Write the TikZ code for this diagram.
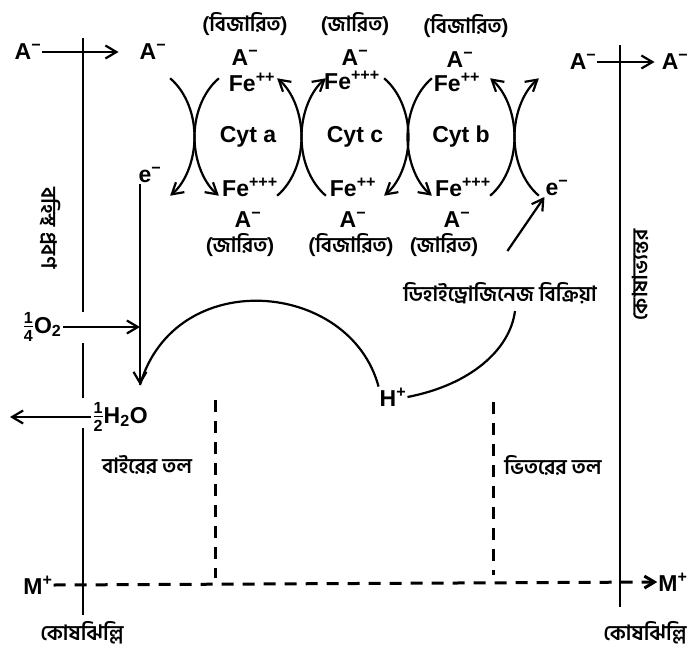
\documentclass[tikz,border=0pt]{standalone}
\usepackage{amsmath}
\usepackage{fontspec}
\setmainfont{Liberation Sans}
\newfontfamily\bn[Script=Bengali]{Hind Siliguri}
\usetikzlibrary{arrows.meta,calc}
\tikzset{
  pf/.style={-{Straight Barb[length=11pt,width=13pt]},line width=2.2pt},
  bogen/.style={line width=2.2pt},
  memb/.style={line width=2.6pt},
  strich/.style={line width=3pt,dash pattern=on 12pt off 9pt},
  txt/.style={inner sep=1pt,font=\fontsize{23}{25}\selectfont\bfseries},
  bnt/.style={inner sep=1pt,font=\fontsize{21}{24}\selectfont\bn\bfseries},
  bnb/.style={inner sep=1pt,font=\fontsize{21}{24}\selectfont\bn\bfseries},
}
\newcommand{\am}{A\textsuperscript{−}}

\begin{document}
\begin{tikzpicture}[x=1pt,y=1pt]
  \useasboundingbox (0,0) rectangle (699,-659);
  % Membranen
  \draw[memb] (83,-38) -- (83,-312);
  \draw[memb] (83,-343) -- (83,-398);
  \draw[memb] (83,-428) -- (83,-615);
  \draw[memb] (620,-45) -- (620,-607);
  \node[bnb,rotate=-90] (aussen) at (50,-228) {বহিস্থ প্রবণ};
  \node[bnb,rotate=90] (innen) at (640,-275) {কোষাভ্যন্তর};
  % A- oben
  \node[txt] (a0) at (28,-52) {\am};
  \node[txt] (a1) at (153,-52) {\am};
  \draw[pf,shorten >=20pt] (a0) -- (a1);
  \node[txt] (a2) at (583,-62) {\am};
  \node[txt] (a3) at (675,-62) {\am};
  \draw[pf,shorten >=6pt] (a2) -- (a3);
  % Cytochrome
  \node[bnt] (b1) at (245,-24) {(বিজারিত)};
  \node[bnt] (b2) at (355,-24) {(জারিত)};
  \node[bnt] (b3) at (466,-26) {(বিজারিত)};
  \node[txt] (t1) at (245,-58) {\am};
  \node[txt] (t2) at (355,-58) {\am};
  \node[txt] (t3) at (460,-60) {\am};
  \node[txt] (fa) at (252,-82) {Fe\textsuperscript{++}};
  \node[txt] (fc) at (352,-80) {Fe\textsuperscript{+++}};
  \node[txt] (fb) at (457,-82) {Fe\textsuperscript{++}};
  \node[txt] (ca) at (248,-137) {Cyt a};
  \node[txt] (cc) at (355,-137) {Cyt c};
  \node[txt] (cb) at (461,-137) {Cyt b};
  \node[txt] (ga) at (250,-187) {Fe\textsuperscript{+++}};
  \node[txt] (gc) at (353,-187) {Fe\textsuperscript{++}};
  \node[txt] (gb) at (463,-187) {Fe\textsuperscript{+++}};
  \node[txt] (u1) at (248,-220) {\am};
  \node[txt] (u2) at (353,-220) {\am};
  \node[txt] (u3) at (457,-220) {\am};
  \node[bnt] (d1) at (240,-245) {(জারিত)};
  \node[bnt] (d2) at (351,-245) {(বিজারিত)};
  \node[bnt] (d3) at (444,-245) {(জারিত)};
  \coordinate (links) at (141,-137);
  \coordinate (rechts) at (568,-137);
  % Ringe
  \draw[pf] ($(links)+(57:53.5pt and 70pt)$) arc[start angle=57,end angle=-57,x radius=53.5pt,y radius=70pt];
  \draw[pf] ($(ca)+(123:53.5pt and 70pt)$) arc[start angle=123,end angle=237,x radius=53.5pt,y radius=70pt];
  \draw[pf] ($(ca)+(-57:53.5pt and 70pt)$) arc[start angle=-57,end angle=57,x radius=53.5pt,y radius=70pt];
  \draw[pf] ($(cc)+(237:53.5pt and 70pt)$) arc[start angle=237,end angle=123,x radius=53.5pt,y radius=70pt];
  \draw[pf] ($(cc)+(57:53.5pt and 70pt)$) arc[start angle=57,end angle=-57,x radius=53.5pt,y radius=70pt];
  \draw[pf] ($(cb)+(123:53.5pt and 70pt)$) arc[start angle=123,end angle=237,x radius=53.5pt,y radius=70pt];
  \draw[pf] ($(cb)+(-57:53.5pt and 70pt)$) arc[start angle=-57,end angle=57,x radius=53.5pt,y radius=70pt];
  \draw[pf] ($(rechts)+(237:53.5pt and 70pt)$) arc[start angle=237,end angle=123,x radius=53.5pt,y radius=70pt];
  % Elektronen
  \node[txt] (el) at (150,-175) {e\textsuperscript{−}};
  \node[txt] (er) at (557,-188) {e\textsuperscript{−}};
  \coordinate (w) at (140,-385);
  \draw[pf] (el.south -| w) -- (w);
  \draw[pf] ($(d3.east)+(28,-6)$) -- (er.south west);
  \node[txt] (o2) at (42,-327) {$\frac{\text{1}}{\text{4}}$O\textsubscript{2}};
  \draw[pf] (o2.east) -- (o2.east -| w);
  \node[txt] (h2o) at (120,-417) {$\frac{\text{1}}{\text{2}}$H\textsubscript{2}O};
  \coordinate (hl) at (10,-417);
  \draw[pf] (h2o.west) -- (hl);
  % H+ und Dehydrogenase
  \node[txt] (hp) at (393,-397) {H\textsuperscript{+}};
  \node[bnb] (dh) at (500,-293) {ডিহাইড্রোজিনেজ বিক্রিয়া};
  \draw[bogen] (hp.north west) .. controls (350,-280) and (175,-265) .. (w);
  \draw[bogen] (hp.east) .. controls (470,-385) and (510,-350) .. ($(dh.south)+(15,-6)$);
  % Flaechen
  \draw[strich] (215,-400) -- (215,-578);
  \draw[strich] (493,-402) -- (493,-575);
  \node[bnb] (aus) at (147,-465) {বাইরের তল};
  \node[bnb] (inn) at (553,-465) {ভিতরের তল};
  % M+
  \node[txt] (m0) at (38,-585) {M\textsuperscript{+}};
  \node[txt] (m1) at (673,-582) {M\textsuperscript{+}};
  \draw[strich,-{Straight Barb[length=10pt,width=12pt]}] (m0.east) -- (m1.west);
  \node[bnb] (k1) at (82,-633) {কোষঝিল্লি};
  \node[bnb] (k2) at (645,-633) {কোষঝিল্লি};
\end{tikzpicture}
\end{document}
